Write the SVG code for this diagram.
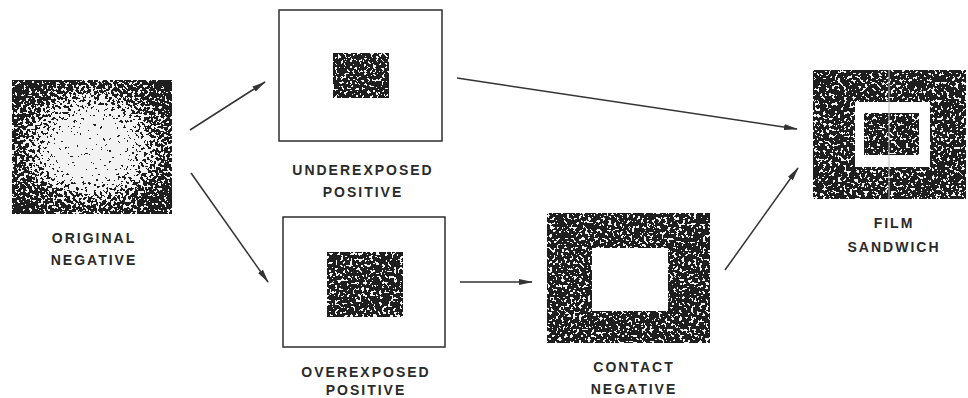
<svg xmlns="http://www.w3.org/2000/svg" width="968" height="398" viewBox="0 0 968 398">
<style>
.lbl{font-family:"Liberation Sans",Arial,sans-serif;font-weight:bold;font-size:14px;letter-spacing:2px;fill:#2a2a2a;text-anchor:middle}
.frame{fill:#fff;stroke:#2e2e2e;stroke-width:1.5}
.tex{fill:#474747;filter:url(#dither)}
.con{stroke:#333;stroke-width:1.5;fill:none;marker-end:url(#ah)}
</style>
<defs>
<filter id="dither" x="0" y="0" width="1" height="1" filterUnits="objectBoundingBox" color-interpolation-filters="sRGB">
<feTurbulence type="fractalNoise" baseFrequency="0.34" numOctaves="2" seed="7" result="n"/>
<feColorMatrix in="n" type="matrix" values="1 0 0 0 0 1 0 0 0 0 1 0 0 0 0 0 0 0 0 1" result="g"/>
<feComposite in="SourceGraphic" in2="g" operator="arithmetic" k1="0" k2="1" k3="2.2" k4="-1.1" result="s"/>
<feComponentTransfer in="s">
<feFuncR type="discrete" tableValues="0.12 0.95"/>
<feFuncG type="discrete" tableValues="0.12 0.95"/>
<feFuncB type="discrete" tableValues="0.12 0.95"/>
<feFuncA type="linear" slope="0" intercept="1"/>
</feComponentTransfer>
</filter>
<radialGradient id="rg" cx="0.5" cy="0.5" r="0.62">
<stop offset="0" stop-color="#fff"/>
<stop offset="0.32" stop-color="#fff"/>
<stop offset="0.7" stop-color="#6a6a6a"/>
<stop offset="1" stop-color="#353535"/>
</radialGradient>
<marker id="ah" viewBox="0 0 14 6" refX="13" refY="3" markerWidth="14" markerHeight="6" markerUnits="userSpaceOnUse" orient="auto">
<path d="M0,0 L14,3 L0,6 Z" fill="#333"/>
</marker>
</defs>
<rect width="968" height="398" fill="#fff"/>

<g id="original-negative">
<rect x="12" y="80" width="160" height="134" fill="url(#rg)" filter="url(#dither)"/>
<text class="lbl" x="94" y="243">ORIGINAL</text>
<text class="lbl" x="94" y="265">NEGATIVE</text>
</g>

<g id="underexposed-positive">
<rect class="frame" x="279" y="10" width="163" height="131"/>
<rect class="tex" x="333" y="53" width="56" height="45"/>
<text class="lbl" x="363" y="175">UNDEREXPOSED</text>
<text class="lbl" x="363" y="197">POSITIVE</text>
</g>

<g id="overexposed-positive">
<rect class="frame" x="283" y="217" width="162" height="130"/>
<rect class="tex" x="327" y="252" width="76" height="65"/>
<text class="lbl" x="366" y="377">OVEREXPOSED</text>
<text class="lbl" x="366" y="395">POSITIVE</text>
</g>

<g id="contact-negative">
<rect class="tex" x="547" y="213" width="163" height="130"/>
<rect x="592" y="248" width="76" height="63" fill="#fff"/>
<text class="lbl" x="634" y="372">CONTACT</text>
<text class="lbl" x="634" y="394">NEGATIVE</text>
</g>

<g id="film-sandwich">
<rect class="tex" x="813" y="70" width="153" height="129"/>
<rect x="855" y="102" width="75" height="65" fill="#fff"/>
<rect class="tex" x="864" y="113" width="55" height="42"/>
<line x1="889" y1="70" x2="889" y2="199" stroke="#bbb" stroke-width="1"/>
<text class="lbl" x="894" y="228">FILM</text>
<text class="lbl" x="894" y="252">SANDWICH</text>
</g>

<g id="connectors">
<line class="con" x1="190" y1="130" x2="265" y2="82"/>
<line class="con" x1="191" y1="173" x2="268" y2="282"/>
<line class="con" x1="457" y1="78" x2="797" y2="129"/>
<line class="con" x1="460" y1="282" x2="532" y2="282"/>
<line class="con" x1="725" y1="270" x2="798" y2="168"/>
</g>
</svg>
